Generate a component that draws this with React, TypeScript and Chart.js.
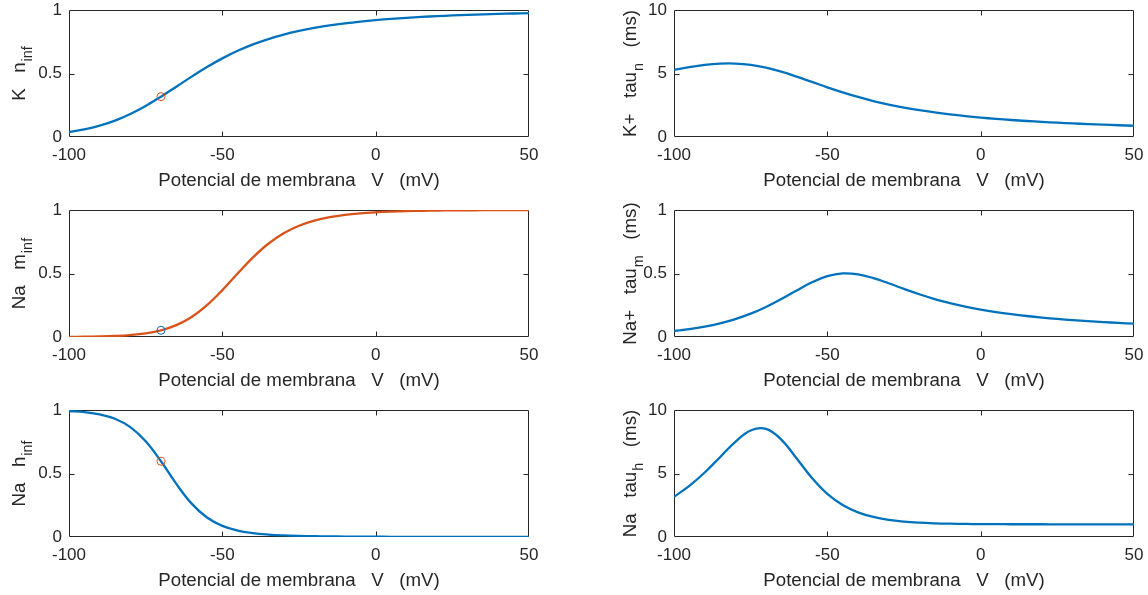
import React, { useEffect, useRef } from "react";
import { Chart, registerables } from "chart.js";

Chart.register(...registerables);

// ---------- data ----------
const voltage = [-100, -95, -90, -85, -80, -75, -70, -65, -60, -55, -50, -45, -40, -35, -30, -25, -20, -15, -10, -5, 0, 5, 10, 15, 20, 25, 30, 35, 40, 45, 50];

const nInf = [0.0394, 0.06, 0.0892, 0.1291, 0.181, 0.2446, 0.3177, 0.3963, 0.4755, 0.5508, 0.6191, 0.6786, 0.7292, 0.7714, 0.8064, 0.8352, 0.859, 0.8786, 0.895, 0.9087, 0.9203, 0.9301, 0.9384, 0.9456, 0.9517, 0.9571, 0.9617, 0.9658, 0.9694, 0.9725, 0.9753];
const tauN = [5.281, 5.502, 5.675, 5.776, 5.782, 5.677, 5.459, 5.141, 4.755, 4.335, 3.913, 3.514, 3.152, 2.832, 2.554, 2.314, 2.108, 1.931, 1.778, 1.645, 1.53, 1.429, 1.339, 1.26, 1.189, 1.126, 1.068, 1.017, 0.969, 0.926, 0.887];
const mInf = [0.0011, 0.0021, 0.0041, 0.008, 0.0154, 0.0289, 0.0529, 0.0936, 0.1581, 0.2508, 0.3692, 0.5006, 0.6271, 0.7344, 0.8167, 0.8757, 0.9163, 0.9437, 0.962, 0.9742, 0.9823, 0.9878, 0.9916, 0.9941, 0.9959, 0.9971, 0.9979, 0.9985, 0.999, 0.9993, 0.9995];
const tauM = [0.0472, 0.0622, 0.082, 0.1078, 0.1412, 0.1839, 0.2368, 0.2991, 0.3669, 0.431, 0.479, 0.5007, 0.4935, 0.4642, 0.423, 0.3786, 0.3364, 0.2989, 0.2666, 0.2391, 0.2159, 0.1962, 0.1796, 0.1653, 0.153, 0.1423, 0.133, 0.1248, 0.1175, 0.111, 0.1052];
const hInf = [0.9922, 0.9836, 0.966, 0.931, 0.8652, 0.7541, 0.5961, 0.4182, 0.2626, 0.1534, 0.0874, 0.0504, 0.0303, 0.0192, 0.0128, 0.0089, 0.0065, 0.0048, 0.0037, 0.0028, 0.0022, 0.0017, 0.0013, 0.001, 0.0008, 0.0006, 0.0005, 0.0004, 0.0003, 0.0002, 0.0002];
const tauH = [3.163, 4.026, 5.077, 6.282, 7.497, 8.39, 8.516, 7.67, 6.186, 4.641, 3.393, 2.515, 1.939, 1.576, 1.35, 1.212, 1.128, 1.077, 1.046, 1.027, 1.016, 1.009, 1.005, 1.003, 1.002, 1.001, 1.0, 1.0, 1.0, 1.0, 1.0];

const restVoltage = [-70];
const nRest = [0.3177];
const mRest = [0.0529];
const hRest = [0.5961];

const xTicks = [-100, -50, 0, 50];
const gateTicks = [0, 0.5, 1];
const tauNTicks = [0, 5, 10];
const tauMTicks = [0, 0.5, 1];
const tauHTicks = [0, 5, 10];

const xTitle = "Potencial de membrana   V   (mV)";

// ---------- styles ----------
const BLUE = "#0072BD";
const ORANGE = "#D95319";
const AXIS = "#262626";
const FONT = "'Liberation Sans', Arial, Helvetica, sans-serif";
const TICK_SIZE = 17;
const LABEL_SIZE = 18.7;
const SUB_SIZE = 14.5;

const CANVAS_W = 574;
const CANVAS_H = 200;

type Part = { t: string; sub?: boolean };
type PanelCfg = {
  col: number;
  row: number;
  values: number[];
  color: string;
  markerY?: number[];
  markerColor?: string;
  yMax: number;
  yTicks: number[];
  label: Part[];
};

const panels: PanelCfg[] = [
  { col: 0, row: 0, values: nInf, color: BLUE, markerY: nRest, markerColor: ORANGE, yMax: 1, yTicks: gateTicks, label: [{ t: "K   n" }, { t: "inf", sub: true }] },
  { col: 1, row: 0, values: tauN, color: BLUE, yMax: 10, yTicks: tauNTicks, label: [{ t: "K+   tau" }, { t: "n", sub: true }, { t: "   (ms)" }] },
  { col: 0, row: 1, values: mInf, color: ORANGE, markerY: mRest, markerColor: BLUE, yMax: 1, yTicks: gateTicks, label: [{ t: "Na   m" }, { t: "inf", sub: true }] },
  { col: 1, row: 1, values: tauM, color: BLUE, yMax: 1, yTicks: tauMTicks, label: [{ t: "Na+   tau" }, { t: "m", sub: true }, { t: "   (ms)" }] },
  { col: 0, row: 2, values: hInf, color: BLUE, markerY: hRest, markerColor: ORANGE, yMax: 1, yTicks: gateTicks, label: [{ t: "Na   h" }, { t: "inf", sub: true }] },
  { col: 1, row: 2, values: tauH, color: BLUE, yMax: 10, yTicks: tauHTicks, label: [{ t: "Na   tau" }, { t: "h", sub: true }, { t: "   (ms)" }] },
];

// Matlab-like box with inward ticks
const boxPlugin = {
  id: "matlabBox",
  beforeDatasetsDraw(chart: any) {
    const { ctx, chartArea, scales } = chart;
    const { left, right, top, bottom } = chartArea;
    const L = Math.round(left) + 0.5;
    const R = Math.round(right) - 0.5;
    const T = Math.round(top) + 0.5;
    const B = Math.round(bottom) - 0.5;
    ctx.save();
    ctx.strokeStyle = AXIS;
    ctx.lineWidth = 1;
    ctx.beginPath();
    ctx.rect(L, T, R - L, B - T);
    const tl = 5;
    scales.x.ticks.forEach((tk: any) => {
      const px = Math.round(scales.x.getPixelForValue(tk.value)) + 0.5;
      if (px <= L + 1 || px >= R - 1) return;
      ctx.moveTo(px, B);
      ctx.lineTo(px, B - tl);
      ctx.moveTo(px, T);
      ctx.lineTo(px, T + tl);
    });
    scales.y.ticks.forEach((tk: any) => {
      const py = Math.round(scales.y.getPixelForValue(tk.value)) + 0.5;
      if (py <= T + 1 || py >= B - 1) return;
      ctx.moveTo(L, py);
      ctx.lineTo(L + tl, py);
      ctx.moveTo(R, py);
      ctx.lineTo(R - tl, py);
    });
    ctx.stroke();
    ctx.restore();
  },
};

// y-axis label with subscript (rotated)
const subLabelPlugin = {
  id: "subLabel",
  afterDraw(chart: any, _args: any, opts: any) {
    const parts: Part[] = opts.parts || [];
    const { ctx, chartArea } = chart;
    const cy = (chartArea.top + chartArea.bottom) / 2;
    ctx.save();
    ctx.fillStyle = AXIS;
    ctx.textBaseline = "alphabetic";
    ctx.textAlign = "left";
    const mainFont = `${LABEL_SIZE}px ${FONT}`;
    const subFont = `${SUB_SIZE}px ${FONT}`;
    let total = 0;
    const widths = parts.map((p) => {
      ctx.font = p.sub ? subFont : mainFont;
      const w = ctx.measureText(p.t).width + (p.sub ? 1 : 0);
      total += w;
      return w;
    });
    ctx.translate(opts.x, cy);
    ctx.rotate(-Math.PI / 2);
    let pos = -total / 2;
    parts.forEach((p, i) => {
      ctx.font = p.sub ? subFont : mainFont;
      ctx.fillText(p.t, pos + (p.sub ? 1 : 0), p.sub ? 7 : 0);
      pos += widths[i];
    });
    ctx.restore();
  },
};

function Panel({ cfg }: { cfg: PanelCfg }) {
  const ref = useRef<HTMLCanvasElement>(null);
  useEffect(() => {
    const areaLeft = cfg.col === 0 ? 69 : 100;
    const areaRight = cfg.col === 0 ? 529 : 560;
    const areaTop = 10;
    const areaBottom = 137;
    const labelX = cfg.col === 0 ? 25 : 62;

    const datasets: any[] = [
      {
        data: voltage.map((v, i) => ({ x: v, y: cfg.values[i] })),
        borderColor: cfg.color,
        borderWidth: 2.3,
        pointRadius: 0,
        tension: 0.4,
        fill: false,
        order: 1,
      },
    ];
    if (cfg.markerY) {
      datasets.push({
        data: restVoltage.map((v, i) => ({ x: v, y: cfg.markerY![i] })),
        showLine: false,
        pointRadius: 4,
        pointBorderWidth: 1,
        pointBorderColor: cfg.markerColor,
        pointBackgroundColor: "rgba(0,0,0,0)",
        order: 0,
      });
    }

    const chart = new Chart(ref.current!, {
      type: "line",
      data: { datasets },
      plugins: [boxPlugin, subLabelPlugin],
      options: {
        responsive: false,
        animation: false,
        devicePixelRatio: 1,
        events: [],
        layout: { padding: { left: 0, top: areaTop, right: CANVAS_W - areaRight, bottom: 0 } },
        plugins: {
          legend: { display: false },
          tooltip: { enabled: false },
          subLabel: { parts: cfg.label, x: labelX },
        } as any,
        scales: {
          x: {
            type: "linear",
            min: -100,
            max: 50,
            grid: { display: false, drawTicks: false, tickLength: 0 },
            border: { display: false },
            afterBuildTicks: (s: any) => {
              s.ticks = xTicks.map((v) => ({ value: v }));
            },
            ticks: {
              font: { family: FONT, size: TICK_SIZE },
              color: AXIS,
              padding: 8,
              maxRotation: 0,
              autoSkip: false,
              callback: (v: any) => String(v),
            },
            title: {
              display: true,
              text: xTitle,
              font: { family: FONT, size: LABEL_SIZE },
              color: AXIS,
              padding: { top: 0, bottom: 8 },
            },
            afterFit: (s: any) => {
              s.height = CANVAS_H - areaBottom;
              s.paddingLeft = 0;
              s.paddingRight = 0;
            },
          },
          y: {
            type: "linear",
            min: 0,
            max: cfg.yMax,
            grid: { display: false, drawTicks: false, tickLength: 0 },
            border: { display: false },
            afterBuildTicks: (s: any) => {
              s.ticks = cfg.yTicks.map((v) => ({ value: v }));
            },
            ticks: {
              font: { family: FONT, size: TICK_SIZE },
              color: AXIS,
              padding: 7,
              autoSkip: false,
              callback: (v: any) => String(v),
            },
            afterFit: (s: any) => {
              s.width = areaLeft;
              s.paddingTop = 0;
              s.paddingBottom = 0;
            },
          },
        },
      } as any,
    });
    return () => chart.destroy();
  }, [cfg]);

  return (
    <canvas
      ref={ref}
      width={CANVAS_W}
      height={CANVAS_H}
      style={{
        position: "absolute",
        left: cfg.col * CANVAS_W,
        top: cfg.row * CANVAS_H,
        width: CANVAS_W,
        height: CANVAS_H,
      }}
    />
  );
}

export default function App() {
  return (
    <div
      style={{
        position: "fixed",
        left: 0,
        top: 0,
        width: 1148,
        height: 595,
        background: "#ffffff",
        overflow: "hidden",
      }}
    >
      {panels.map((p, i) => (
        <Panel key={i} cfg={p} />
      ))}
    </div>
  );
}
